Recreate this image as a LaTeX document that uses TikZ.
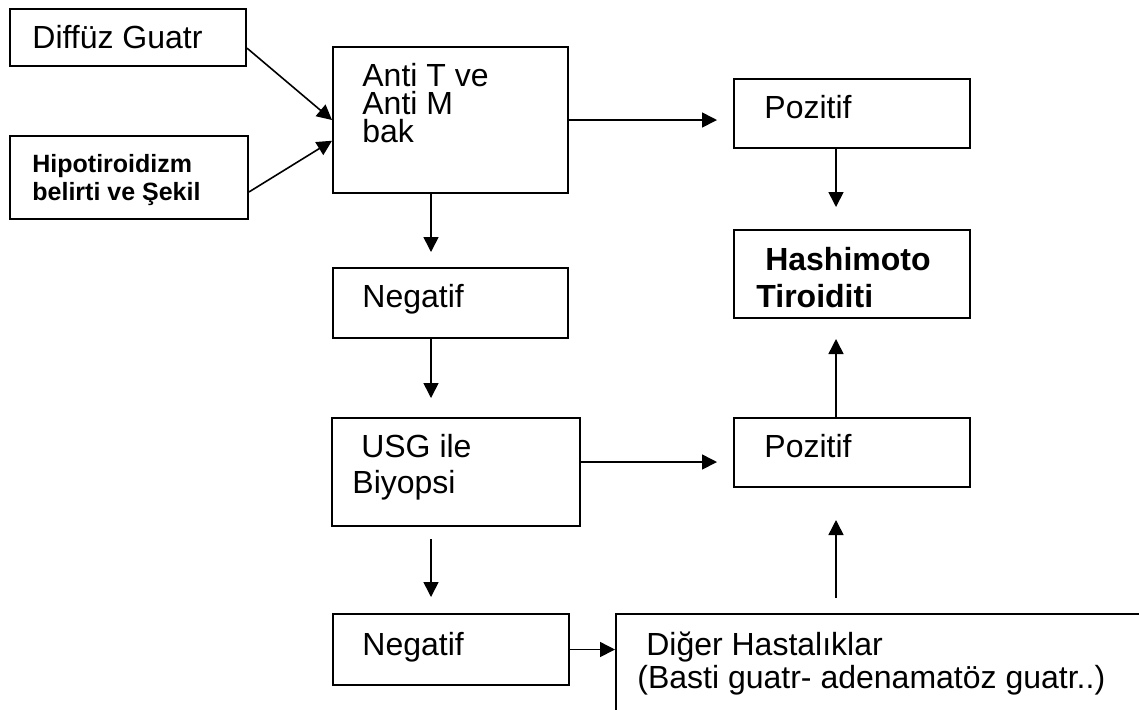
\documentclass[tikz,border=0pt]{standalone}
\usepackage{fontspec}
\setmainfont{Liberation Sans}
\usetikzlibrary{arrows.meta,calc}
\tikzstyle{kutu}=[draw,line width=1pt,rectangle,anchor=north west,inner sep=0pt]
\tikzstyle{yazi}=[anchor=base west,inner sep=0pt,align=left]
\tikzstyle{ok}=[line width=0.8pt,-{Triangle[length=7.5pt,width=7.5pt]}]

\begin{document}
\begin{tikzpicture}[x=0.5pt,y=-0.5pt]
  \useasboundingbox (0,0) rectangle (1139,709);
  \clip (0,0) rectangle (1139,709);
  % kutular
  \node[kutu,minimum width=118pt,minimum height=28.5pt] (diffuz) at (9,8) {};
  \node[kutu,minimum width=119pt,minimum height=41.5pt] (hipo) at (9,135) {};
  \node[kutu,minimum width=117.5pt,minimum height=73pt] (anti) at (332,46) {};
  \node[kutu,minimum width=117.5pt,minimum height=35pt] (neg1) at (332,267) {};
  \node[kutu,minimum width=124pt,minimum height=54pt] (usg) at (331,417) {};
  \node[kutu,minimum width=118pt,minimum height=35.5pt] (neg2) at (332,613) {};
  \node[kutu,minimum width=118pt,minimum height=34.5pt] (poz1) at (733,78) {};
  \node[kutu,minimum width=118pt,minimum height=44pt] (hash) at (733,229) {};
  \node[kutu,minimum width=118pt,minimum height=34.5pt] (poz2) at (733,417) {};
  \node[kutu,minimum width=300pt,minimum height=60pt] (diger) at (615,613) {};
  % yazilar (cok satirlilarda son satirin tabani)
  \node[yazi,font=\fontsize{16}{14}\selectfont] (tdiffuz) at (32,48) {Diffüz Guatr};
  \node[yazi,font=\fontsize{12.5}{13.6}\selectfont\bfseries] (thipo) at (32,200) {Hipotiroidizm\\belirti ve Şekil};
  \node[yazi,font=\fontsize{16}{13.8}\selectfont] (tanti) at (362,142) {Anti T ve\\Anti M\\bak};
  \node[yazi,font=\fontsize{16}{14}\selectfont] (tneg1) at (362,307) {Negatif};
  \node[yazi,font=\fontsize{16}{18}\selectfont] (tusg) at (352,493) {\hspace*{0.278em}USG ile\\Biyopsi};
  \node[yazi,font=\fontsize{16}{14}\selectfont] (tneg2) at (362,655) {Negatif};
  \node[yazi,font=\fontsize{16}{14}\selectfont] (tpoz1) at (764,118) {Pozitif};
  \node[yazi,font=\fontsize{16}{18.5}\selectfont\bfseries] (thash) at (756,307) {\hspace*{0.278em}Hashimoto\\Tiroiditi};
  \node[yazi,font=\fontsize{16}{14}\selectfont] (tpoz2) at (764,457) {Pozitif};
  \node[yazi,font=\fontsize{16}{16.5}\selectfont] (tdiger) at (637,688) {\hspace*{0.278em}Diğer Hastalıklar\\(Basti guatr- adenamatöz guatr..)};
  % oklar
  \draw[ok] ($(diffuz.north east)!0.68!(diffuz.south east)$) -- (anti.west);
  \draw[ok] ($(hipo.north east)!0.67!(hipo.south east)$) -- ($(anti.north west)!0.64!(anti.south west)$);
  \draw[ok,shorten >=8pt] (anti.east) -- (anti.east -| poz1.west);
  \draw[ok,shorten >=7.5pt] ([xshift=-9.75pt]anti.south) -- ([xshift=-9.75pt]anti.south |- neg1.north);
  \draw[ok,shorten >=9.5pt] ([xshift=-9.75pt]neg1.south) -- ([xshift=-9.75pt]neg1.south |- usg.north);
  \draw[ok,shorten >=8pt] ([yshift=5pt]usg.east) -- ([yshift=5pt]usg.east -| poz2.west);
  \draw[ok,shorten <=6pt,shorten >=8pt] ([xshift=-12.5pt]usg.south) -- ([xshift=-12.5pt]usg.south |- neg2.north);
  \draw[ok] (neg2.east) -- (neg2.east -| diger.west);
  \draw[ok,shorten >=11pt] ([xshift=-8pt]poz1.south) -- ([xshift=-8pt]hash.north);
  \draw[ok,shorten >=10pt] ([xshift=-8pt]poz2.north) -- ([xshift=-8pt]hash.south);
  \draw[ok,shorten <=7.5pt,shorten >=16pt] ([xshift=-8pt]poz2.south |- diger.north) -- ([xshift=-8pt]poz2.south);
\end{tikzpicture}
\end{document}
